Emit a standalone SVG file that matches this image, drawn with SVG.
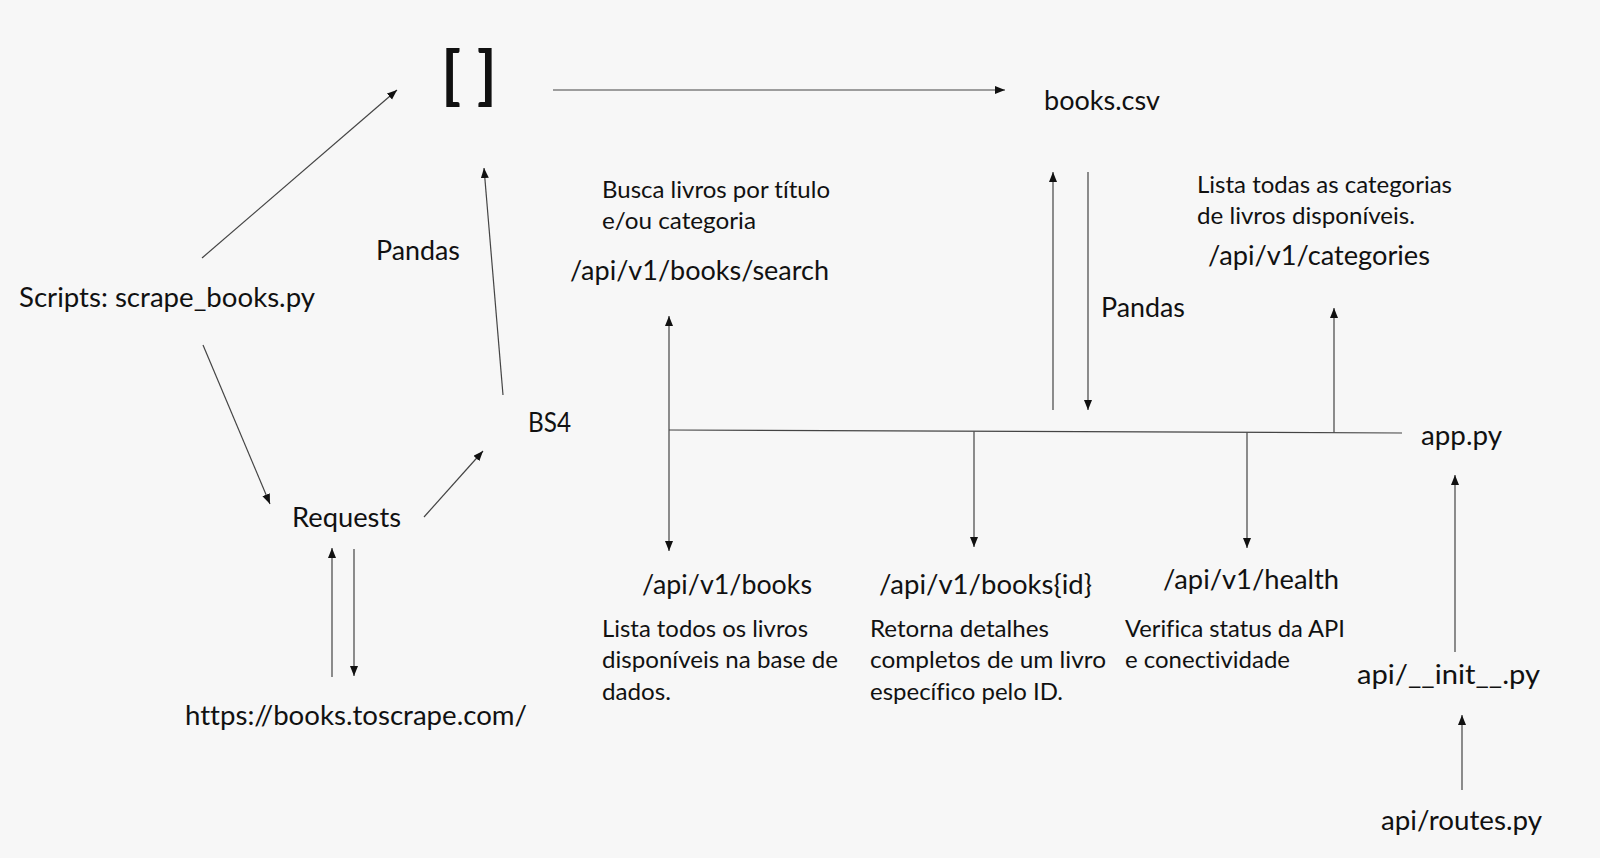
<svg xmlns="http://www.w3.org/2000/svg" width="1600" height="858" viewBox="0 0 1600 858">
<defs>
<style>
.t{font-family:Lato,"Open Sans","Noto Sans",sans-serif;fill:#111;font-variant-ligatures:none;font-feature-settings:"liga" 0;}
.h{font-size:27px;}
.d{font-size:23px;}
.c{stroke:#444;stroke-width:1.2;fill:none;marker-end:url(#ah);}
.l{stroke:#444;stroke-width:1.2;fill:none;}
</style>
<marker id="ah" markerUnits="userSpaceOnUse" markerWidth="11" markerHeight="9" refX="10" refY="4" orient="auto">
<path d="M0,0 L10,4 L0,8 Z" fill="#111"/>
</marker>
</defs>
<rect width="1600" height="858" fill="#f7f7f7"/>
<g id="connectors">
<line class="c" x1="202" y1="258" x2="397" y2="90"/>
<line class="c" x1="203" y1="345" x2="270" y2="504"/>
<line class="c" x1="424" y1="517" x2="483" y2="451"/>
<line class="c" x1="503" y1="395" x2="484" y2="168"/>
<line class="c" x1="332" y1="677" x2="332" y2="548"/>
<line class="c" x1="354" y1="549" x2="354" y2="676"/>
<line class="c" x1="553" y1="90" x2="1005" y2="90"/>
<line class="c" x1="1053" y1="410" x2="1053" y2="172"/>
<line class="c" x1="1088" y1="172" x2="1088" y2="410"/>
<line class="l" x1="669" y1="430" x2="1402" y2="433"/>
<line class="c" x1="669" y1="430" x2="669" y2="316"/>
<line class="c" x1="669" y1="430" x2="669" y2="551"/>
<line class="c" x1="974" y1="431.5" x2="974" y2="547"/>
<line class="c" x1="1247" y1="432.5" x2="1247" y2="548"/>
<line class="c" x1="1334" y1="432.5" x2="1334" y2="308"/>
<line class="c" x1="1455" y1="652" x2="1455" y2="475"/>
<line class="c" x1="1462" y1="790" x2="1462" y2="715"/>
</g>
<g id="list"><text class="t" x="441" y="97" font-size="64" font-weight="bold" textLength="56" lengthAdjust="spacingAndGlyphs">[ ]</text></g>
<g id="books-csv"><text class="t h" x="1044" y="110" textLength="116" lengthAdjust="spacingAndGlyphs">books.csv</text></g>
<g id="scripts"><text class="t h" x="19" y="307" textLength="296" lengthAdjust="spacingAndGlyphs">Scripts: scrape_books.py</text></g>
<g id="pandas-left"><text class="t h" x="376" y="260" textLength="84" lengthAdjust="spacingAndGlyphs">Pandas</text></g>
<g id="bs4"><text class="t h" x="528" y="432" textLength="43" lengthAdjust="spacingAndGlyphs">BS4</text></g>
<g id="requests"><text class="t h" x="292" y="527" textLength="109" lengthAdjust="spacingAndGlyphs">Requests</text></g>
<g id="site"><text class="t h" x="185" y="725" textLength="342" lengthAdjust="spacingAndGlyphs">https://books.toscrape.com/</text></g>
<g id="search">
<text class="t d" x="602" y="198" textLength="228" lengthAdjust="spacingAndGlyphs">Busca livros por título</text>
<text class="t d" x="602" y="229" textLength="154" lengthAdjust="spacingAndGlyphs">e/ou categoria</text>
<text class="t h" x="570" y="280" textLength="259" lengthAdjust="spacingAndGlyphs">/api/v1/books/search</text>
</g>
<g id="categories">
<text class="t d" x="1197" y="193" textLength="255" lengthAdjust="spacingAndGlyphs">Lista todas as categorias</text>
<text class="t d" x="1197" y="224" textLength="218" lengthAdjust="spacingAndGlyphs">de livros disponíveis.</text>
<text class="t h" x="1208" y="265" textLength="222" lengthAdjust="spacingAndGlyphs">/api/v1/categories</text>
</g>
<g id="pandas-right"><text class="t h" x="1101" y="317" textLength="84" lengthAdjust="spacingAndGlyphs">Pandas</text></g>
<g id="app"><text class="t h" x="1421" y="445" textLength="81" lengthAdjust="spacingAndGlyphs">app.py</text></g>
<g id="books">
<text class="t h" x="642" y="594" textLength="170" lengthAdjust="spacingAndGlyphs">/api/v1/books</text>
<text class="t d" x="602" y="637" textLength="206" lengthAdjust="spacingAndGlyphs">Lista todos os livros</text>
<text class="t d" x="602" y="668" textLength="236" lengthAdjust="spacingAndGlyphs">disponíveis na base de</text>
<text class="t d" x="602" y="700" textLength="69" lengthAdjust="spacingAndGlyphs">dados.</text>
</g>
<g id="books-id">
<text class="t h" x="879" y="594" textLength="213" lengthAdjust="spacingAndGlyphs">/api/v1/books{id}</text>
<text class="t d" x="870" y="637" textLength="179" lengthAdjust="spacingAndGlyphs">Retorna detalhes</text>
<text class="t d" x="870" y="668" textLength="236" lengthAdjust="spacingAndGlyphs">completos de um livro</text>
<text class="t d" x="870" y="700" textLength="193" lengthAdjust="spacingAndGlyphs">específico pelo ID.</text>
</g>
<g id="health">
<text class="t h" x="1163" y="589" textLength="176" lengthAdjust="spacingAndGlyphs">/api/v1/health</text>
<text class="t d" x="1125" y="637" textLength="220" lengthAdjust="spacingAndGlyphs">Verifica status da API</text>
<text class="t d" x="1125" y="668" textLength="165" lengthAdjust="spacingAndGlyphs">e conectividade</text>
</g>
<g id="init"><text class="t h" x="1357" y="684" textLength="183" lengthAdjust="spacingAndGlyphs">api/__init__.py</text></g>
<g id="routes"><text class="t h" x="1381" y="830" textLength="161" lengthAdjust="spacingAndGlyphs">api/routes.py</text></g>
</svg>
